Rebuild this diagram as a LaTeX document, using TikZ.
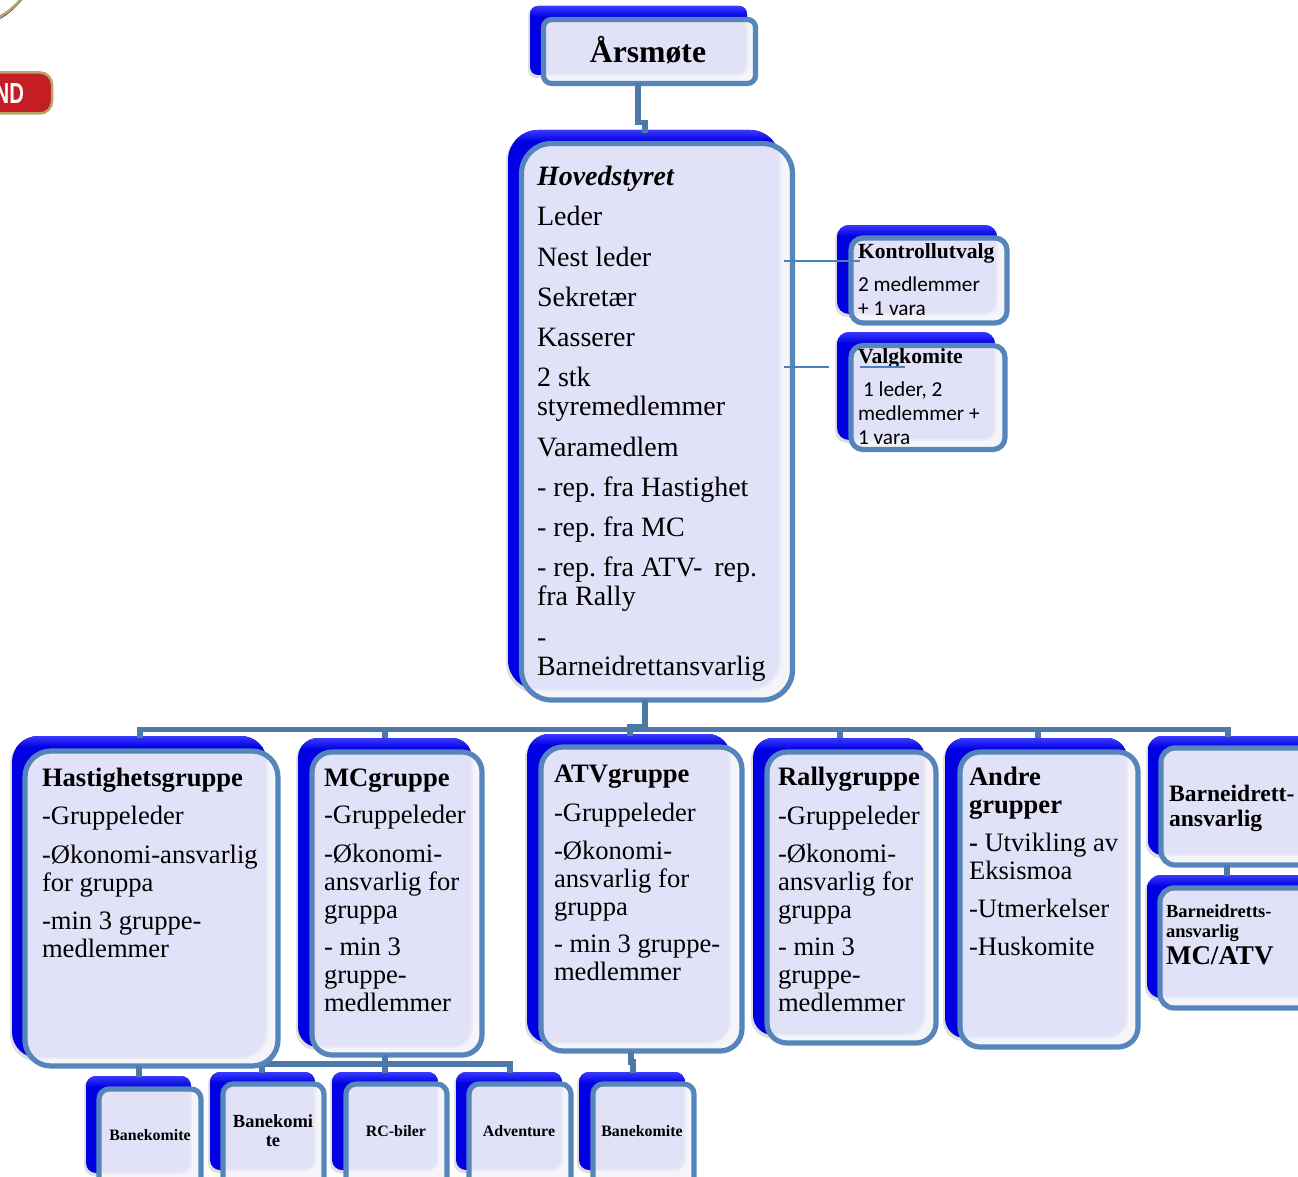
\documentclass[tikz,border=0pt]{standalone}
\usepackage{fontspec}
\setmainfont{Liberation Serif}
\newfontfamily\calfont{Carlito}
\newfontfamily\sansf{Liberation Sans}
\usetikzlibrary{calc}
\definecolor{frameblue}{HTML}{5585BB}
\definecolor{connblue}{HTML}{4D79A9}
\definecolor{backblue}{HTML}{0000E2}
\definecolor{backtop}{HTML}{3A3AFF}
\definecolor{innerfill}{HTML}{E1E2F8}
\definecolor{palefill}{HTML}{F5F5F9}
\definecolor{thinblue}{HTML}{4A80BB}
\definecolor{badgered}{HTML}{C41E24}
\definecolor{gold}{HTML}{B9A46B}
\tikzset{
  x=1pt,y=1pt,
  backbox/.style={fill=backblue,draw=none,inner sep=0,outer sep=0,anchor=north west},
  frontbox/.style={draw=frameblue,line width=5.2pt,inner sep=0,outer sep=0,anchor=north west},
  conn/.style={draw=connblue,line width=5.2pt},
  thinline/.style={draw=thinblue,line width=1.5pt},
  txt/.style={inner sep=0,outer sep=0,anchor=north west,align=left},
  hovedtxt/.style={txt,font=\frenchspacing\fontsize{28}{29}\selectfont},
  grouptxt/.style={txt,font=\fontsize{26.6}{28}\selectfont},
  sidetxt/.style={txt,font=\fontsize{21.6}{24}\selectfont},
  smalltxt/.style={inner sep=0,outer sep=0,align=center,font=\bfseries\fontsize{15.9}{18}\selectfont},
}
\newcommand{\gbox}[9]{%
  \fill[black,opacity=.13,rounded corners=\gr pt] (#2-2,-#3-2) rectangle (#4,-#5-3);
  \node[backbox,rounded corners=\gr pt,minimum width={(#4-#2)*1pt},minimum height={(#5-#3)*1pt}] (#1B) at (#2,-#3) {};
  \begin{scope}
    \clip[rounded corners=\gr pt] (#2,-#3) rectangle (#4,-#5);
    \shade[top color=backtop,bottom color=backblue] (#2,-#3) rectangle (#4,-#3-11);
  \end{scope}
  \begin{scope}
    \clip[rounded corners=\gr pt] (#6,-#7) rectangle (#8,-#9);
    \fill[palefill] (#6,-#7) rectangle (#8,-#9);
    \filldraw[fill=innerfill,draw=innerfill!50!palefill,line width=2pt,rounded corners=\gr pt] (#2,-#3) rectangle (#4,-#5);
  \end{scope}
  \node[frontbox,rounded corners=\gr pt,minimum width={(#8-#6)*1pt},minimum height={(#9-#7)*1pt}] (#1) at (#6,-#7) {};
}
\newcommand{\gr}{10}
\begin{document}
\begin{tikzpicture}
\useasboundingbox (0,0) rectangle (1298,-1177);
\clip (0,0) rectangle (1298,-1177);

% logo fragments at the top left
\draw[color=black!75,line width=.8pt] (21.5,0) .. controls (15,-8) and (8,-14) .. (0,-18.5);
\draw[color=gold,line width=2.4pt] (20,0) .. controls (14,-7) and (7,-12.5) .. (0,-16.5);
\node[fill=badgered,draw=gold,line width=2.5pt,rounded corners=12pt,inner sep=0,outer sep=0,anchor=north west,minimum width=72pt,minimum height=41pt] (badge) at (-20,-72.5) {};
\node[inner sep=0,outer sep=0,anchor=base east,text=white,xscale=.7,font=\sansf\bfseries\fontsize{29}{29}\selectfont] (badgetxt) at (24,-104) {ND};

% small boxes at the bottom
\renewcommand{\gr}{10}
\gbox{bone}{86}{1076}{191}{1173}{99}{1089}{201}{1195}
\gbox{btwo}{210}{1072}{315}{1170}{223}{1084}{324}{1195}
\gbox{bthree}{332}{1072}{438}{1170}{346}{1084}{447}{1195}
\gbox{bfour}{456}{1072}{562}{1170}{469}{1084}{571}{1195}
\gbox{bfive}{579}{1072}{685}{1170}{593}{1084}{694}{1195}

% bus behind the group boxes
\coordinate (bustwo) at (385,-1064);
\draw[conn] (bustwo) -| ($(btwoB.north west)+(52,-1)$);
\draw[conn] (bustwo) -| ($(bfourB.north west)+(54,-1)$);

% group boxes
\renewcommand{\gr}{26}
\gbox{hast}{12}{736}{267}{1058}{25}{751}{278}{1066}
\renewcommand{\gr}{20}
\gbox{mc}{298}{738}{472}{1047}{312}{752}{482}{1055}
\renewcommand{\gr}{22}
\gbox{atv}{527}{734}{730}{1043}{541}{747}{742}{1051}
\renewcommand{\gr}{20}
\gbox{rally}{753}{738}{925}{1035}{767}{752}{936}{1043}
\gbox{andre}{945}{738}{1127}{1038}{960}{752}{1138}{1047}
\renewcommand{\gr}{14}
\gbox{barn}{1148}{736}{1320}{855}{1161}{748}{1330}{865}
\gbox{bmc}{1147}{875}{1320}{998}{1160}{888}{1330}{1008}

% top boxes
\renewcommand{\gr}{8}
\gbox{ars}{530}{6}{747}{75}{543.5}{19.5}{755.5}{83.5}
\renewcommand{\gr}{30}
\gbox{hoved}{508}{130}{780}{690}{521.5}{143.5}{792.5}{700}
\renewcommand{\gr}{12}
\gbox{kontroll}{837}{225}{997}{314}{851}{238}{1007}{323}
\gbox{valg}{837}{332}{995}{440}{851}{345.5}{1005}{449.5}

% connectors
\draw[conn] ($(ars.south west)+(94.5,0)$) -- ++(0,-39) -- ++(7,0) -- ($(hovedB.north west)+(137,-3)$);
\coordinate (bus) at (645,-729.5);
\draw[conn] ($(hoved.south west)+(123.5,0)$) -- (bus);
\draw[conn] (bus) -| ($(hastB.north west)+(128,-2)$);
\draw[conn] (bus) -| ($(mcB.north west)+(87,0)$);
\draw[conn] (bus) -| ($(rallyB.north west)+(87,0)$);
\draw[conn] (bus) -| ($(andreB.north west)+(93,0)$);
\draw[conn] (bus) -| ($(barnB.north west)+(80,-1)$);
\coordinate (busjog) at (645,-727);
\draw[conn] (busjog) -| ($(atvB.north west)+(103,-2)$);
\draw[conn] ($(barn.south west)+(66,0)$) -- ($(bmcB.north west)+(80,-1)$);
\draw[conn] ($(hast.south west)+(114,0)$) -- ($(boneB.north west)+(53,-1)$);
\draw[conn] ($(mc.south west)+(73,0)$) -- ($(bthreeB.north west)+(53,-1)$);
\draw[conn] ($(atv.south west)+(90,0)$) -- ++(0,-11) -- ++(2,0) -- ($(bfiveB.north west)+(54,-1)$);

% texts
\node[inner sep=0,outer sep=0,font=\bfseries\fontsize{31.7}{34}\selectfont] (arstxt) at (648,-50) {Årsmøte};

\node[hovedtxt] (hovedtxt) at (537,-166) {\textbf{\textit{Hovedstyret}}\\[11pt]
Leder\\[12pt] Nest leder\\[11pt] Sekretær\\[11pt] Kasserer\\[11pt] 2 stk\\ styremedlemmer\\[12pt]
Varamedlem\\[11pt] - rep. fra Hastighet\\[11pt] - rep. fra MC\\[11pt] - rep. fra ATV-\hspace{5pt} rep.\\ fra Rally\\[12pt] -\\ Barneidrettansvarlig};

\node[sidetxt] (konttxt) at (858,-244) {\textbf{Kontrollutvalg}\\[9pt]{\calfont\fontsize{21.3}{24}\selectfont 2 medlemmer}\\{\calfont\fontsize{21.3}{24}\selectfont + 1 vara}};
\node[sidetxt] (valgtxt) at (858,-349) {\textbf{Valgkomite}\\[9pt]{\calfont\fontsize{21.3}{24}\selectfont\hspace*{5pt}1 leder, 2}\\{\calfont\fontsize{21.3}{24}\selectfont medlemmer +}\\{\calfont\fontsize{21.3}{24}\selectfont 1 vara}};

\node[grouptxt] (hasttxt) at (42,-768) {\textbf{Hastighetsgruppe}\\[10pt]-Gruppeleder\\[11pt]-Økonomi-ansvarlig\\for gruppa\\[10pt]-min 3 gruppe-\\medlemmer};
\node[grouptxt] (mctxt) at (324,-768.5) {\textbf{MCgruppe}\\[9pt]-Gruppeleder\\[11pt]-Økonomi-\\ansvarlig for\\gruppa\\[9pt]- min 3\\gruppe-\\medlemmer};
\node[grouptxt] (atvtxt) at (554,-765) {\textbf{ATVgruppe}\\[11pt]-Gruppeleder\\[10pt]-Økonomi-\\ansvarlig for\\gruppa\\[9pt]- min 3 gruppe-\\medlemmer};
\node[grouptxt] (rallytxt) at (778,-767) {\textbf{Rallygruppe}\\[11pt]-Gruppeleder\\[10pt]-Økonomi-\\ansvarlig for\\gruppa\\[9pt]- min 3\\gruppe-\\medlemmer};
\node[grouptxt] (andretxt) at (969,-767) {\textbf{Andre}\\\textbf{grupper}\\[10pt]\textbf{-} Utvikling av\\Eksismoa\\[10pt]-Utmerkelser\\[10pt]-Huskomite};

\node[txt,font=\bfseries\fontsize{23.6}{25}\selectfont] (barntxt) at (1169,-785) {Barneidrett-\\ansvarlig};
\node[txt,font=\bfseries\fontsize{18.5}{20}\selectfont] (bmctxt) at (1166,-905) {Barneidretts-\\ansvarlig\\[3.5pt]{\fontsize{27}{20}\selectfont MC/ATV}};

\node[smalltxt] (bonetxt) at (150,-1135) {Banekomite};
\node[smalltxt,font=\bfseries\fontsize{18.5}{19}\selectfont] (btwotxt) at (273,-1131) {Banekomi\\te};
\node[smalltxt] (bthreetxt) at (396,-1131) {RC-biler};
\node[smalltxt] (bfourtxt) at (519,-1131) {Adventure};
\node[smalltxt] (bfivetxt) at (642,-1131) {Banekomite};

% thin connectors
\draw[thinline] ($(hoved.north east)+(-8.5,-117.5)$) -- ($(kontroll.north west)+(9,-23)$);
\coordinate (valgend) at (829,-367);
\draw[thinline] ($(hoved.north east)+(-8.5,-223.5)$) -- (valgend);
\draw[thinline] ($(valg.north west)+(9,-21.5)$) -- ($(valg.north west)+(54,-21.5)$);
\end{tikzpicture}
\end{document}
